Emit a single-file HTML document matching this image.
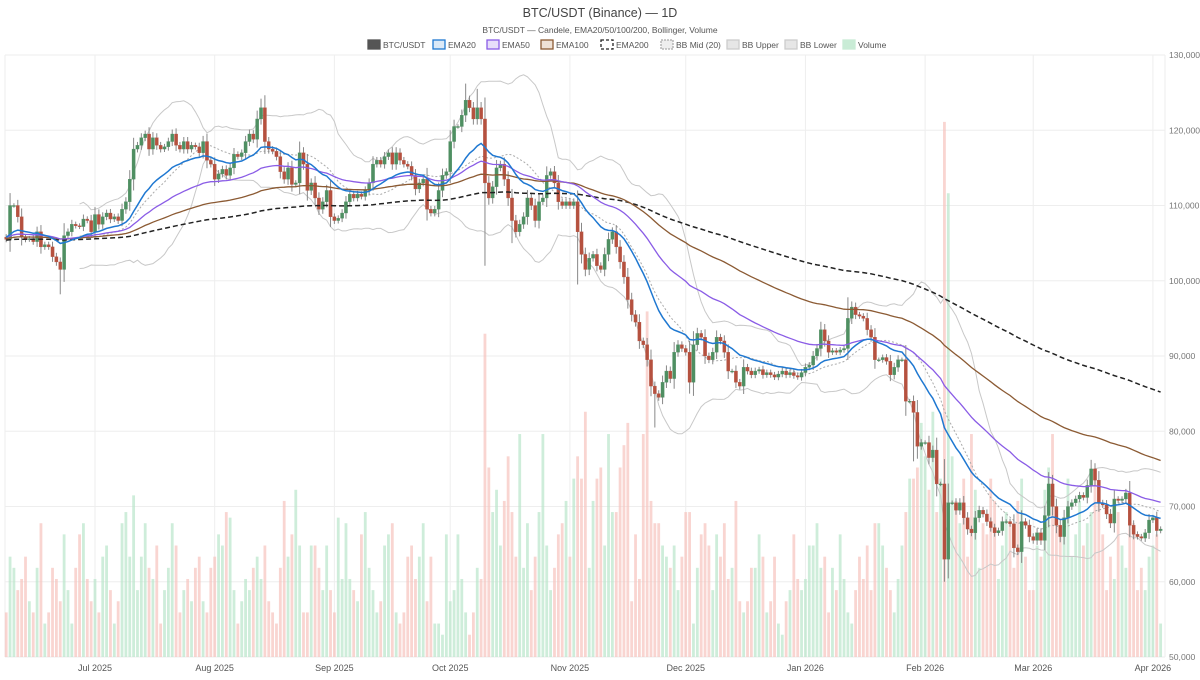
<!DOCTYPE html>
<html><head><meta charset="utf-8">
<style>
body{margin:0;background:#fff;font-family:"Liberation Sans",sans-serif;}
svg text{font-family:"Liberation Sans",sans-serif;}
</style></head>
<body>
<svg id="chart" width="1200" height="675" viewBox="0 0 1200 675" xmlns="http://www.w3.org/2000/svg">
<text x="600" y="17" text-anchor="middle" font-size="12.5" fill="#444">BTC/USDT (Binance) — 1D</text>
<text x="600" y="33" text-anchor="middle" font-size="8.5" fill="#555">BTC/USDT — Candele, EMA20/50/100/200, Bollinger, Volume</text>
<g id="legend"></g>
<g id="grid"></g><g id="vol"></g><g id="bb"></g><g id="candles"></g><g id="emas"></g><g id="axes"></g>
</svg>
<script>
const closes=[105.5,110,110,108.5,105.8,105.5,105.6,105.2,106.5,104.5,104.8,104.5,103.2,102.5,101.5,106,106.5,107.5,107.3,107.2,108.2,108,106.5,
108.8,107.5,108.5,109,108.2,108.5,108,109.5,110.5,
113.5,117.5,118,119,119.5,117.5,119,118,117.5,117.8,118.5,119.5,118,117.5,118.5,117.5,118,117.8,117,118.5,116,115.5,113.5,114.2,114.8,114,115,116.8,116.5,117,118.5,119.5,118.8,121.5,123,118.5,117.5,117.2,116.5,114.5,113.5,115,112.8,113,117,
115.5,112,113,111,109.5,110.5,112,108.5,108,108.3,109,110.5,111.5,111,111.5,111.2,112,113,115.5,116,115.5,116.5,117,115.5,117,116,115.5,115.2,114,112.2,113,113.5,109.5,109,109.5,112,114,114.5,
118.5,120.5,120.5,122,124,123,121.5,123,121.5,113,111,112.5,115,115.5,113.5,111,108,106.5,107.5,108.5,111,110,108,110.5,111,114,114.5,113,110.5,110,110.5,110,110.5,
106.5,103.5,101.5,103,103.5,102,101.5,103.5,105.5,106.5,104.5,102.5,100.5,97.5,95.5,94.5,92,91.5,89.5,86,85,84.5,86.5,88,87,90.5,91.5,91,90.5,
86.5,91.5,93,92.5,90,89.5,90.5,92.5,92,90.5,88,88,86.5,86,88.5,88,87.5,88,88.2,87.5,87.8,87.5,87.2,87.6,88,87.5,87.8,87.4,87.2,87.8,
88.5,88.8,90,91,93.5,92,90.5,90.7,90.5,90.8,91,95,96.5,95.5,95.3,95,93.5,92.5,89.5,89.5,89.8,89.3,87.5,88.5,89.5,89.5,
84,84,82.5,78,78.5,78.5,76.5,77.5,73,73,63,70.5,70.5,69.5,70.5,68.5,67,66.5,68.5,69.5,69,68,67.2,66.5,66.8,68,68,67.7,64.5,64,68,67.5,66,65.5,
66.5,65.5,68.8,73,70,67.5,66,68.5,70,70.5,71,71.5,71.2,72.8,75,73.5,70.5,70.2,69,67.8,71,70.8,71,71.8,67.5,66.3,66,65.8,66.5,68.2,68.5,66.8,67];
const volumes=[4,9,8,6,7,9,5,4,8,12,3,4,8,7,5,11,6,3,8,11,12,7,5,
7,4,9,10,6,3,5,12,13,
9,14.5,6,9,12,8,7,10,3,6,8,12,10,4,6,7,5,8,9,5,4,8,9,11,10,13,12.5,6,3,5,7,6,8,9,7,10,5,4,3,8,14,9,11,15,10,
4,4,10,10,8,6,10,6,4,12.5,7,12,7,6,5,11,13,8,6,4,5,10,11,12,4,3,4,9,10,7,9,12,5,9,3,3,2,11,
5,6,11,7,4,2,4,8,7,29,17,13,15,10,14,18,13,9,20,8,12,6,9,13,20,10,6,8,11,12,14,9,16,
18,16,22,8,14,16,17,10,20,13,13,17,19,21,5,11,7,20,31,14,12,12,10,9,8,10,6,9,13,
13,3,8,11,12,10,6,11,9,12,7,8,14,5,4,5,8,8,11,9,4,5,9,3,2,5,6,11,7,6,
7,10,10,12,8,9,4,8,6,11,7,4,3,6,9,7,10,6,12,12,10,8,6,4,7,10,
13,16,16,17,21,18,15,22,13,16,48,41.6,18,14,12,16,9,20,15,8,12,11,16,14,7,10,13,12,8,14,16,9,6,6,
10,9,15,17,20,12,11,11,16,9,11,14,10,12,13,16,14,11,6,9,7,13,10,8,12,12,6,8,6,9,10,11,3];
const lowWickIdx=[14,124,168,243,131,148,235];
const lowWickVal=[98.2,102,80.5,60,105,99.5,76];
const hiWickIdx=[66,119,122,218,281];
const hiWickVal=[124.2,126.2,125.5,97.8,76.2];
const yTicks=[50000,60000,70000,80000,90000,100000,110000,120000,130000];
const monthLabels=["Jul 2025","Aug 2025","Sep 2025","Oct 2025","Nov 2025","Dec 2025","Jan 2026","Feb 2026","Mar 2026","Apr 2026"];
const monthDayIdx=[23,54,85,115,146,176,207,238,266,297];

const NS="http://www.w3.org/2000/svg";
const L=5,R=1165,T=55,B=657;
const xS=i=>6.2+i*3.861;
const yS=p=>B-(p-50)*(B-T)/80;
const vMax=54;
const vS=v=>B-v*(B-T)/vMax;
function mk(tag,parent,attrs){const e=document.createElementNS(NS,tag);for(const k in attrs)e.setAttribute(k,attrs[k]);parent.appendChild(e);return e;}
const g=id=>document.getElementById(id);
const N=closes.length;
const opens=closes.map((c,i)=>i===0?105.8:closes[i-1]);

for(let k=0;k<yTicks.length;k++){const y=yS(yTicks[k]/1000);
 const ln=mk('line',g('grid'),{x1:L,x2:R,y1:y,y2:y,stroke:'#eee','stroke-width':1});
 
 const t=mk('text',g('axes'),{x:1169,y:y+3,'font-size':8.6,fill:'#777'});
 t.textContent=yTicks[k].toLocaleString('en-US');
 }
for(let k=0;k<monthLabels.length;k++){const x=xS(monthDayIdx[k]);
 const ln=mk('line',g('grid'),{x1:x,x2:x,y1:T,y2:B,stroke:'#eee','stroke-width':1});
 
 const t=mk('text',g('axes'),{x:x,y:671,'font-size':9,fill:'#555','text-anchor':'middle'});
 t.textContent=monthLabels[k];
 }
mk('line',g('grid'),{x1:L,x2:L,y1:T,y2:B,stroke:'#eee'});
mk('line',g('grid'),{x1:R,x2:R,y1:T,y2:B,stroke:'#eee'});

for(let i=0;i<N;i++){const up=closes[i]>=opens[i];const y=vS(volumes[i]);
 const r=mk('rect',g('vol'),{x:xS(i)-1.4,y:y,width:2.8,height:B-y,fill:up?'#b9e6cb':'#f6c3bd','fill-opacity':0.7});
 }

function ema(n,seed){const a=2/(n+1);let v=seed;return closes.map(c=>(v=v+a*(c-v)));}
const e20=ema(20,105.8),e50=ema(50,105.8),e100=ema(100,105.6),e200=ema(200,105.4);
const mid=[],up=[],lo=[];
for(let i=19;i<N;i++){const s=closes.slice(i-19,i+1);const m=s.reduce((a,b)=>a+b,0)/20;
 const sd=Math.sqrt(s.reduce((a,b)=>a+(b-m)*(b-m),0)/20);mid.push([i,m]);up.push([i,m+2*sd]);lo.push([i,m-2*sd]);}
const path=pts=>pts.map((p,k)=>(k?'L':'M')+xS(p[0]).toFixed(1)+','+yS(p[1]).toFixed(1)).join('');
const bu=mk('path',g('bb'),{d:path(up),fill:'none',stroke:'#c8c8c8','stroke-width':1});

const bl=mk('path',g('bb'),{d:path(lo),fill:'none',stroke:'#c8c8c8','stroke-width':1});

const bm=mk('path',g('bb'),{d:path(mid),fill:'none',stroke:'#aaa','stroke-width':1,'stroke-dasharray':'2,2'});


for(let i=0;i<N;i++){const o=opens[i],c=closes[i];const upc=c>=o;const d=Math.abs(c-o);
 let hi=Math.max(o,c)+0.3+0.3*d, lw=Math.min(o,c)-0.3-0.3*d;
 const li=lowWickIdx.indexOf(i);if(li>=0)lw=lowWickVal[li];
 const hidx=hiWickIdx.indexOf(i);if(hidx>=0)hi=hiWickVal[hidx];
 const col=upc?'#4f8f62':'#b5513f';const x=xS(i);
 const w=mk('line',g('candles'),{x1:x,x2:x,y1:yS(hi),y2:yS(lw),stroke:'#888','stroke-width':1});
 
 const yt=yS(Math.max(o,c)),yb=yS(Math.min(o,c));
 const r=mk('rect',g('candles'),{x:x-1.6,y:yt,width:3.2,height:Math.max(1,yb-yt),fill:col,stroke:col,'stroke-width':0.3});
 }

const toPts=arr=>arr.map((v,i)=>[i,v]);
const l200=mk('path',g('emas'),{d:path(toPts(e200)),fill:'none',stroke:'#222','stroke-width':1.5,'stroke-dasharray':'5,3'});

const l100=mk('path',g('emas'),{d:path(toPts(e100)),fill:'none',stroke:'#8b5a33','stroke-width':1.3});

const l50=mk('path',g('emas'),{d:path(toPts(e50)),fill:'none',stroke:'#8a5ce6','stroke-width':1.3});

const l20=mk('path',g('emas'),{d:path(toPts(e20)),fill:'none',stroke:'#1f78d1','stroke-width':1.5});


const legNames=["BTC/USDT","EMA20","EMA50","EMA100","EMA200","BB Mid (20)","BB Upper","BB Lower","Volume"];
const legFill=['#555','#dbe9f7','#e7ddfa','#efe2d6','#fff','#eee','#e6e6e6','#e6e6e6','#c9ecd6'];
const legStroke=['#555','#1f78d1','#8a5ce6','#8b5a33','#222','#aaa','#ccc','#ccc','#c9ecd6'];
const legDash=['','','','','3,2','2,1','','',''];
const legW=[57,46,46,52,52,58,50,50,44];
let lx=368;
for(let k=0;k<legNames.length;k++){
 const it=mk('g',g('legend'),{});
 
 const a={x:lx,y:40,width:12,height:9,fill:legFill[k],stroke:legStroke[k],'stroke-width':1.3};if(legDash[k])a['stroke-dasharray']=legDash[k];
 mk('rect',it,a);
 const t=mk('text',it,{x:lx+15,y:48,'font-size':8.5,fill:'#555'});t.textContent=legNames[k];
 lx+=legW[k]+8;}
</script>
</body></html>
